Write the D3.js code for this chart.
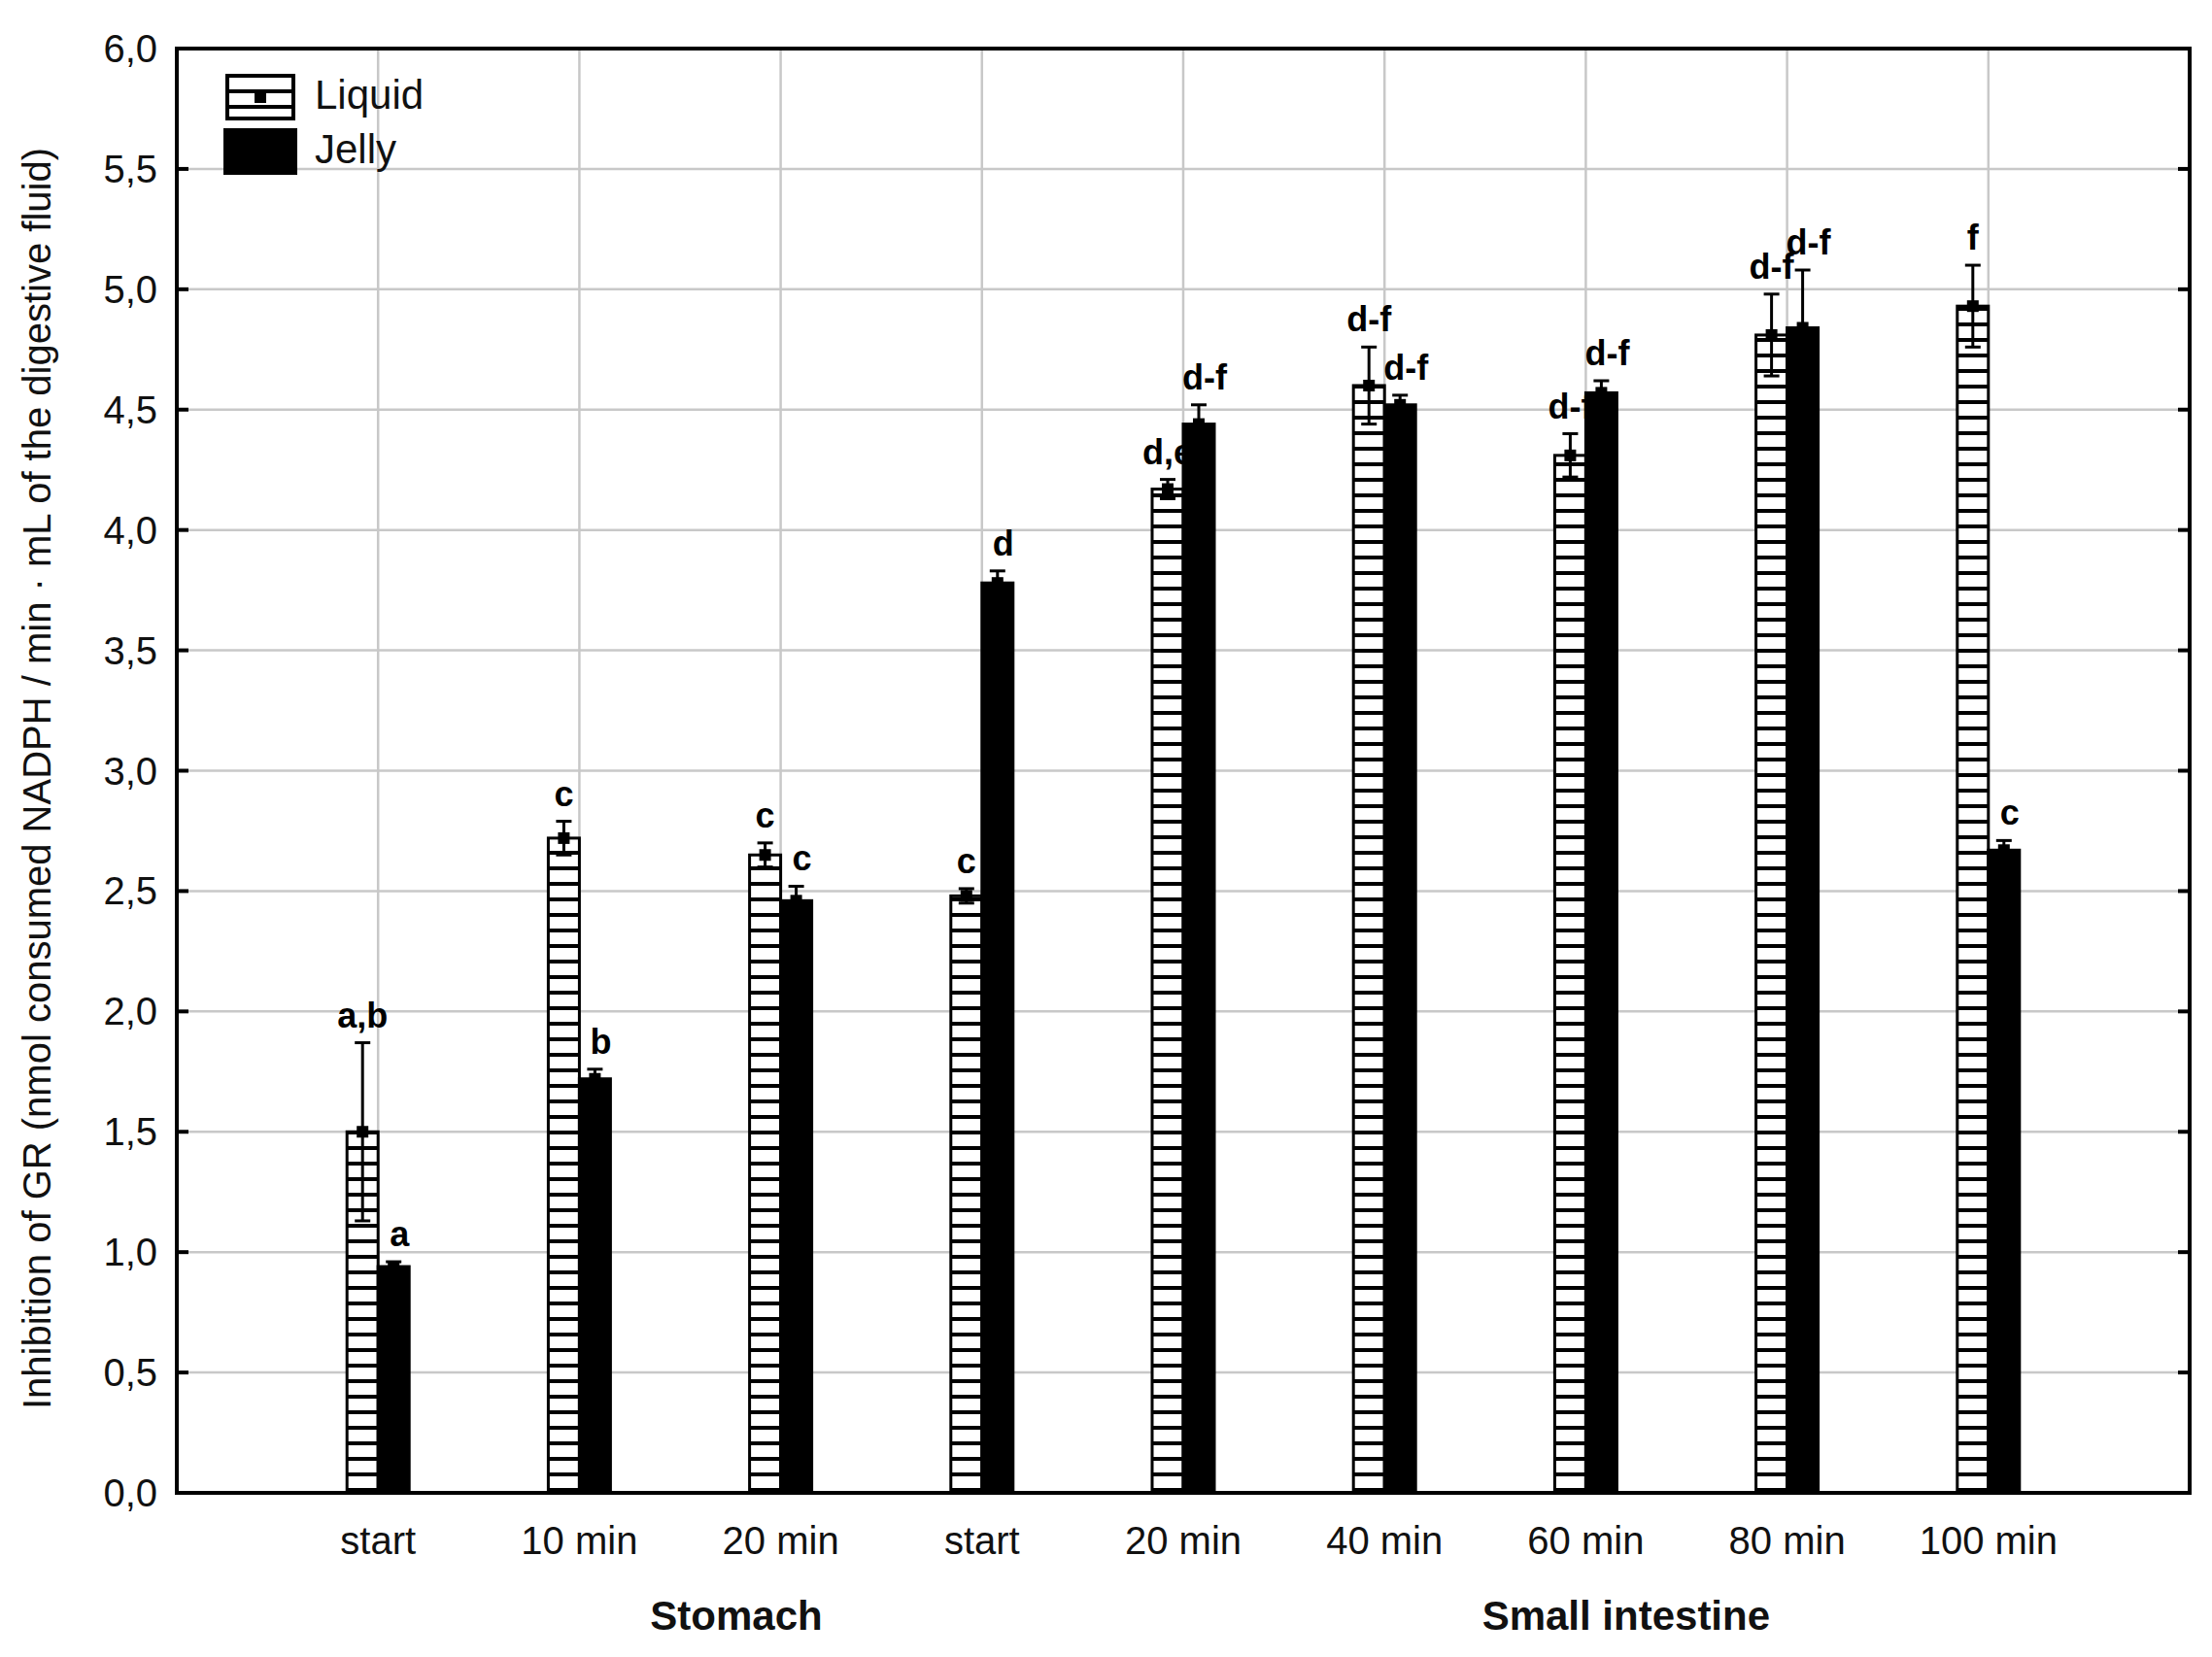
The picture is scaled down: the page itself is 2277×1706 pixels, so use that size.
<!DOCTYPE html>
<html><head><meta charset="utf-8">
<script src="https://cdn.jsdelivr.net/npm/d3@7"></script>
<style>body{margin:0;background:#fff}</style></head>
<body><svg id="c" width="2277" height="1706"></svg>
<script>
const categories = ["start","10 min","20 min","start","20 min","40 min","60 min","80 min","100 min"];
const liquid = [1.50,2.72,2.65,2.48,4.17,4.60,4.31,4.81,4.93];
const liquidErr = [0.37,0.07,0.05,0.03,0.04,0.16,0.09,0.17,0.17];
const jelly = [0.94,1.72,2.46,3.78,4.44,4.52,4.57,4.84,2.67];
const jellyErr = [0.02,0.04,0.06,0.05,0.08,0.04,0.05,0.24,0.04];
const liquidLbl = ["a,b","c","c","c","d,e","d-f","d-f","d-f","f"];
const jellyLbl = ["a","b","c","d","d-f","d-f","d-f","d-f","c"];
const yTicks = [0,0.5,1,1.5,2,2.5,3,3.5,4,4.5,5,5.5,6];
const groups = ["Stomach","Small intestine"];

const svg = d3.select("#c");
const L=182,R=2254,T=50,B=1537;
const x = d3.scaleLinear().domain([0,10]).range([L,R]);
const y = d3.scaleLinear().domain([0,6]).range([B,T]);
const F="Liberation Sans, Arial, sans-serif";
const defs=svg.append("defs");
const pat=defs.append("pattern").attr("id","hatch").attr("patternUnits","userSpaceOnUse").attr("width",20).attr("height",16);
pat.append("rect").attr("width",20).attr("height",16).attr("fill","#fff");
pat.append("rect").attr("y",12).attr("width",20).attr("height",4).attr("fill","#000");

const g=svg.append("g");
g.selectAll(".hg").data(yTicks).join("line").attr("x1",L).attr("x2",R).attr("y1",d=>y(d)).attr("y2",d=>y(d)).attr("stroke","#c8c8c8").attr("stroke-width",2.5);
g.selectAll(".vg").data(categories).join("line").attr("x1",(d,i)=>x(i+1)).attr("x2",(d,i)=>x(i+1)).attr("y1",T).attr("y2",B).attr("stroke","#c8c8c8").attr("stroke-width",2.5);

const bw=32;
svg.selectAll(".lb").data(liquid).join("rect").attr("x",(d,i)=>x(i+1)-bw).attr("width",bw).attr("y",d=>y(d)).attr("height",d=>B-y(d)).attr("fill","url(#hatch)").attr("stroke","#000").attr("stroke-width",3);
svg.selectAll(".jb").data(jelly).join("rect").attr("x",(d,i)=>x(i+1)).attr("width",bw).attr("y",d=>y(d)).attr("height",d=>B-y(d)).attr("fill","#000").attr("stroke","#000").attr("stroke-width",3);

function errs(vals,errv,off){
  const eg=svg.append("g").attr("stroke","#000").attr("stroke-width",3);
  vals.forEach((v,i)=>{
    const cx=x(i+1)+off;
    eg.append("line").attr("x1",cx).attr("x2",cx).attr("y1",y(v-errv[i])).attr("y2",y(v+errv[i]));
    [v-errv[i],v+errv[i]].forEach(e=>eg.append("line").attr("x1",cx-8).attr("x2",cx+8).attr("y1",y(e)).attr("y2",y(e)));
    svg.append("rect").attr("x",cx-6).attr("y",y(v)-6).attr("width",12).attr("height",12).attr("fill","#000");
  });
}
errs(liquid,liquidErr,-bw/2);
errs(jelly,jellyErr,bw/2);

function lbls(vals,errv,lab,off){
  svg.selectAll(null).data(vals).join("text").attr("x",(d,i)=>x(i+1)+off).attr("y",(d,i)=>y(d+errv[i])-16)
   .attr("text-anchor","middle").attr("font-family",F).attr("font-weight","bold").attr("font-size",36).text((d,i)=>lab[i]);
}
lbls(liquid,liquidErr,liquidLbl,-bw/2);
lbls(jelly,jellyErr,jellyLbl,bw/2+6);

svg.append("rect").attr("x",L).attr("y",T).attr("width",R-L).attr("height",B-T).attr("fill","none").attr("stroke","#000").attr("stroke-width",4);
svg.selectAll(".yt").data(yTicks).join("line").attr("x1",L).attr("x2",L+12).attr("y1",d=>y(d)).attr("y2",d=>y(d)).attr("stroke","#000").attr("stroke-width",4);
svg.selectAll(".yt2").data(yTicks).join("line").attr("x1",R-12).attr("x2",R).attr("y1",d=>y(d)).attr("y2",d=>y(d)).attr("stroke","#000").attr("stroke-width",4);
svg.selectAll(".yl").data(yTicks).join("text").attr("x",L-20).attr("y",d=>y(d)+14).attr("text-anchor","end")
  .attr("font-family",F).attr("font-size",40).attr("fill","#111").text(d=>d.toFixed(1).replace(".",","));
svg.selectAll(".xl").data(categories).join("text").attr("x",(d,i)=>x(i+1)).attr("y",1600).attr("text-anchor","middle")
  .attr("font-family",F).attr("font-size",40).attr("fill","#111").text(d=>d);
const gx=[x(2.78),x(7.2)];
svg.selectAll(".gl").data(groups).join("text").attr("x",(d,i)=>gx[i]).attr("y",1678).attr("text-anchor","middle")
  .attr("font-family",F).attr("font-weight","bold").attr("font-size",42).attr("fill","#111").text(d=>d);
svg.append("text").attr("transform",`translate(52,${(T+B)/2+8}) rotate(-90)`).attr("text-anchor","middle")
  .attr("font-family",F).attr("font-size",40).attr("fill","#111").text("Inhibition of GR (nmol consumed NADPH / min · mL of the digestive fluid)");
const lg=svg.append("g");
lg.append("rect").attr("x",234).attr("y",78).attr("width",68).attr("height",44).attr("fill","url(#hatch)").attr("stroke","#000").attr("stroke-width",4);
lg.append("rect").attr("x",262).attr("y",94).attr("width",12).attr("height",12).attr("fill","#000");
lg.append("rect").attr("x",230).attr("y",132).attr("width",76).attr("height",48).attr("fill","#000");
lg.append("text").attr("x",324).attr("y",112).attr("font-family",F).attr("font-size",42).attr("fill","#111").text("Liquid");
lg.append("text").attr("x",324).attr("y",168).attr("font-family",F).attr("font-size",42).attr("fill","#111").text("Jelly");
</script></body></html>
